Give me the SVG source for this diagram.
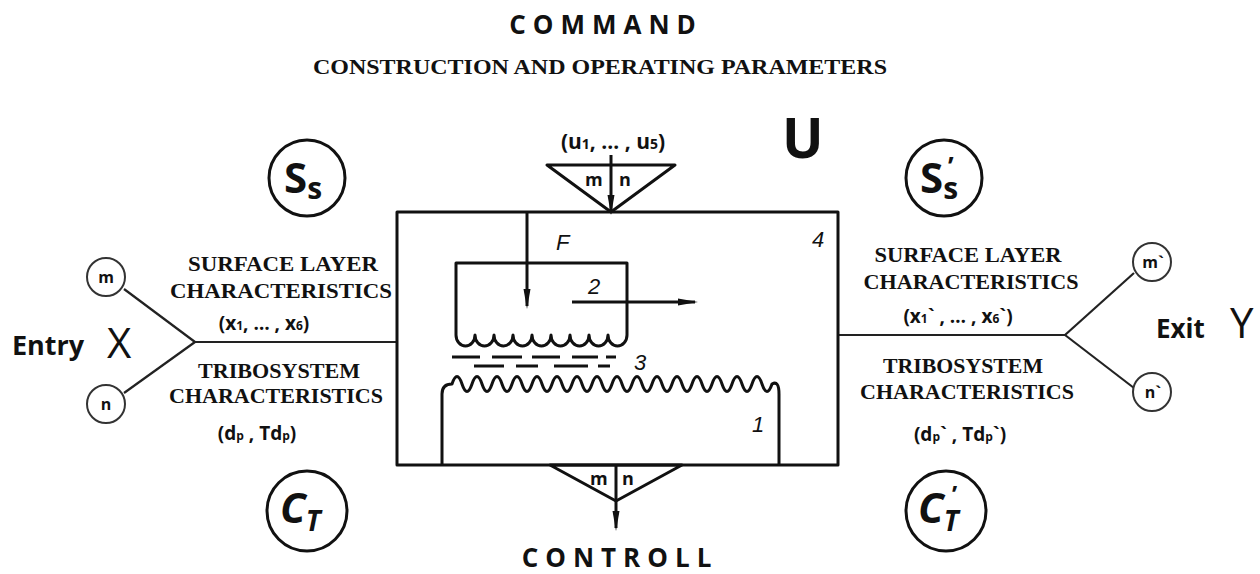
<svg xmlns="http://www.w3.org/2000/svg" width="1260" height="574" viewBox="0 0 1260 574">
<defs>
<style>
.ln{stroke:#111;stroke-width:3;fill:none;stroke-linejoin:round}
.tln{stroke:#222;stroke-width:2.2;fill:none}
.circ{stroke:#111;stroke-width:3;fill:#fff}
.sc{stroke:#333;stroke-width:2;fill:#fff}
.ser{font-family:"Liberation Serif",serif;font-weight:bold;fill:#111;text-anchor:middle}
.sb{font-family:"Open Sans","Liberation Sans",sans-serif;font-weight:bold;fill:#111}
.it{font-family:"Liberation Sans",sans-serif;font-style:italic;fill:#111}
.mid{text-anchor:middle}
</style>
<marker id="ah" markerWidth="20" markerHeight="8" refX="17" refY="4" orient="auto" markerUnits="userSpaceOnUse" viewBox="0 0 20 8">
<path d="M0,0.5 L20,4 L0,7.5 Z" fill="#111"/>
</marker>
</defs>
<rect width="1260" height="574" fill="#fff"/>

<g id="titles">
<text class="sb mid" x="606" y="34" font-size="26" letter-spacing="7">COMMAND</text>
<text class="ser" x="600" y="74" font-size="22" textLength="574" lengthAdjust="spacingAndGlyphs">CONSTRUCTION AND OPERATING PARAMETERS</text>
<text class="sb mid" x="620" y="567" font-size="26" letter-spacing="7">CONTROLL</text>
<text class="sb" x="782" y="158" font-size="55">U</text>
</g>

<g id="connectors">
<line class="tln" x1="195" y1="342" x2="397" y2="342"/>
<line class="tln" x1="195" y1="342" x2="124" y2="289"/>
<line class="tln" x1="195" y1="342" x2="124" y2="393"/>
<line class="tln" x1="838" y1="335" x2="1065" y2="335"/>
<line class="tln" x1="1065" y1="335" x2="1134" y2="273"/>
<line class="tln" x1="1065" y1="335" x2="1134" y2="388"/>
<line class="ln" x1="611" y1="155" x2="611" y2="212" marker-end="url(#ah)"/>
<line class="ln" x1="616" y1="466" x2="616" y2="528" marker-end="url(#ah)"/>
</g>

<g id="input-triangle">
<path class="ln" d="M547,165 L675,165 L611,212 Z"/>
<text class="sb" x="585" y="186" font-size="18">m</text>
<text class="sb" x="619" y="186" font-size="18">n</text>
<text class="sb mid" x="613" y="149" font-size="21">(u<tspan font-size="14">1</tspan>, … , u<tspan font-size="14">5</tspan>)</text>
</g>

<g id="output-triangle">
<path class="ln" d="M550,465 L682,465 L616,501 Z"/>
<text class="sb" x="590" y="485" font-size="18">m</text>
<text class="sb" x="622" y="485" font-size="18">n</text>
</g>

<g id="tribosystem">
<rect class="ln" x="397" y="212" width="441" height="253"/>
<text class="it" x="812" y="247" font-size="22">4</text>
<line class="ln" x1="527" y1="212" x2="527" y2="306" marker-end="url(#ah)"/>
<text class="it" x="556" y="250" font-size="22">F</text>
<path class="ln" d="M456,335 L456,263 L627,263 L627,335 a9.5 11 0 0 1 -19 0 a9.5 11 0 0 1 -19 0 a9.5 11 0 0 1 -19 0 a9.5 11 0 0 1 -19 0 a9.5 11 0 0 1 -19 0 a9.5 11 0 0 1 -19 0 a9.5 11 0 0 1 -19 0 a9.5 11 0 0 1 -19 0 a9.5 11 0 0 1 -19 0"/>
<text class="it" x="588" y="294" font-size="22">2</text>
<line class="ln" x1="572" y1="302" x2="695" y2="302" marker-end="url(#ah)"/>
<path class="ln" d="M452,357 h28 m12,0 h30 m10,0 h28 m12,0 h26 m8,0 h10 M474,366 h30 m12,0 h22 m16,0 h34 m10,0 h12"/>
<text class="it" x="634" y="370" font-size="22">3</text>
<path class="ln" d="M442,465 L442,394 Q442,384 452,384 q5,-15 10,0 t10,0 t10,0 t10,0 t10,0 t10,0 t10,0 t10,0 t10,0 t10,0 t10,0 t10,0 t10,0 t10,0 t10,0 t10,0 t10,0 t10,0 t10,0 t10,0 t10,0 t10,0 t10,0 t10,0 t10,0 t10,0 t10,0 t10,0 t10,0 t10,0 t10,0 t10,0 Q779,380 779,394 L779,465"/>
<text class="it" x="752" y="432" font-size="22">1</text>
</g>

<g id="Ss">
<circle class="circ" cx="307" cy="178" r="38"/>
<text class="sb" x="284" y="193" font-size="42">S<tspan font-size="30" dy="6">s</tspan></text>
</g>
<g id="Ss-prime">
<circle class="circ" cx="944" cy="178" r="38"/>
<text class="sb" x="920" y="193" font-size="42">S<tspan font-size="30" dy="6">s</tspan></text>
<text class="sb" x="948" y="176" font-size="26">’</text>
</g>
<g id="CT">
<circle class="circ" cx="307" cy="511" r="40"/>
<text class="sb" x="280" y="523" font-size="42" font-style="italic">C<tspan font-size="28" dy="8">T</tspan></text>
</g>
<g id="CT-prime">
<circle class="circ" cx="946" cy="511" r="40"/>
<text class="sb" x="918" y="523" font-size="42" font-style="italic">C<tspan font-size="28" dy="8">T</tspan></text>
<text class="sb" x="952" y="503" font-size="24">’</text>
</g>

<g id="entry">
<text class="sb" x="12" y="355" font-size="27">Entry</text>
<text x="107" y="358" font-family="Open Sans,Liberation Sans,sans-serif" font-size="42" fill="#111">X</text>
<circle class="sc" cx="106" cy="277" r="19"/>
<text class="sb mid" x="106" y="283" font-size="16">m</text>
<circle class="sc" cx="106" cy="404" r="19"/>
<text class="sb mid" x="106" y="410" font-size="16">n</text>
</g>

<g id="entry-labels">
<text class="ser" x="283" y="271" font-size="22" textLength="190" lengthAdjust="spacingAndGlyphs">SURFACE LAYER</text>
<text class="ser" x="281" y="298" font-size="22" textLength="222" lengthAdjust="spacingAndGlyphs">CHARACTERISTICS</text>
<text class="sb mid" x="264" y="330" font-size="19">(x<tspan font-size="12">1</tspan>, … , x<tspan font-size="12">6</tspan>)</text>
<text class="ser" x="279" y="378" font-size="22" textLength="162" lengthAdjust="spacingAndGlyphs">TRIBOSYSTEM</text>
<text class="ser" x="276" y="403" font-size="22" textLength="214" lengthAdjust="spacingAndGlyphs">CHARACTERISTICS</text>
<text class="sb mid" x="257" y="440" font-size="19">(d<tspan font-size="12">p</tspan> , Td<tspan font-size="12">p</tspan>)</text>
</g>

<g id="exit">
<text class="sb" x="1156" y="338" font-size="26">Exit</text>
<text x="1230" y="338" font-family="Open Sans,Liberation Sans,sans-serif" font-size="42" fill="#111">Y</text>
<circle class="sc" cx="1152" cy="262" r="19"/>
<text class="sb mid" x="1153" y="268" font-size="16">m`</text>
<circle class="sc" cx="1152" cy="392" r="19"/>
<text class="sb mid" x="1153" y="398" font-size="16">n`</text>
</g>

<g id="exit-labels">
<text class="ser" x="968" y="262" font-size="22" textLength="187" lengthAdjust="spacingAndGlyphs">SURFACE LAYER</text>
<text class="ser" x="971" y="289" font-size="22" textLength="215" lengthAdjust="spacingAndGlyphs">CHARACTERISTICS</text>
<text class="sb mid" x="958" y="323" font-size="19">(x<tspan font-size="12">1</tspan>` , … , x<tspan font-size="12">6</tspan>`)</text>
<text class="ser" x="963" y="373" font-size="22" textLength="160" lengthAdjust="spacingAndGlyphs">TRIBOSYSTEM</text>
<text class="ser" x="967" y="399" font-size="22" textLength="214" lengthAdjust="spacingAndGlyphs">CHARACTERISTICS</text>
<text class="sb mid" x="960" y="441" font-size="19">(d<tspan font-size="12">p</tspan>` , Td<tspan font-size="12">p</tspan>`)</text>
</g>
</svg>
